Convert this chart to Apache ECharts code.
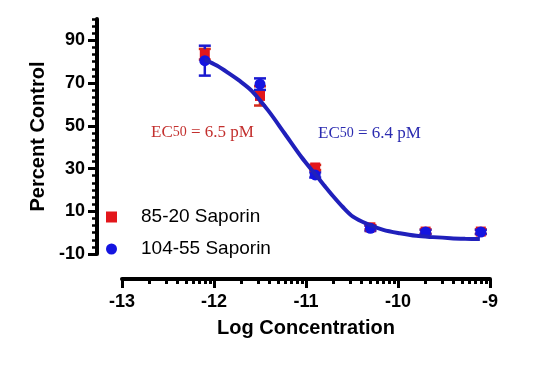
<!DOCTYPE html>
<html>
<head>
<meta charset="utf-8">
<script src="https://cdn.jsdelivr.net/npm/echarts@6/dist/echarts.min.js"></script>
<style>html,body{margin:0;padding:0;background:#fff}#c{width:537px;height:379px}</style>
</head>
<body>
<div id="c"></div>
<script>
// ---- data ----
const xLog = [-12.1, -11.5, -10.9, -10.3, -9.7, -9.1];
const sap8520 = [83.5, 64, 30.5, 2.5, 0.5, 0.5];
const sap8520Err = [2.5, 4.5, 1.2, 1, 1, 1];
const sap10455 = [80.5, 69.5, 27, 2, 0.3, 0.3];
const sap10455Err = [7, 2.7, 1.2, 1.2, 1, 1];
const fitX = [-12.1, -11.97, -11.85, -11.72, -11.59, -11.41, -11.23, -11.05, -10.92, -10.8, -10.7, -10.6, -10.49, -10.33, -10.16, -9.98, -9.8, -9.62, -9.43, -9.27, -9.11];
const fitY = [81, 78.2, 74.9, 71, 66.4, 57.1, 46.3, 35.4, 28.4, 22.0, 16.8, 12.0, 7.5, 4.0, 1.3, -0.3, -1.5, -2.1, -2.6, -2.85, -3.0];
const xTicks = [-13, -12, -11, -10, -9];
const yTicks = [-10, 10, 30, 50, 70, 90];
const seriesNames = ['85-20 Saporin', '104-55 Saporin'];
const ec50Labels = ['6.5 pM', '6.4 pM'];

// minor tick positions (log decades on x, sixths of 20 on y)
const xMinor = [];
for (let d = -13; d < -9; d++) for (let k = 2; k <= 9; k++) xMinor.push(d + Math.log10(k));
const yMinor = [];
for (let i = 0; i <= 33; i++) yMinor.push(-10 + i * 20 / 6);

const FONT = '"Liberation Sans", Arial, Helvetica, sans-serif';
const red = '#e3161b', blue = '#1414e0', curveBlue = '#2020bb';

function errData(xs, ys, es) { return xs.map((x, i) => [x, ys[i] - es[i], ys[i] + es[i]]); }
function errSeries(name, xs, ys, es, color) {
  return {
    type: 'custom', name: name + ' err', silent: true,
    data: errData(xs, ys, es),
    renderItem: function (params, api) {
      const lo = api.coord([api.value(0), api.value(1)]);
      const hi = api.coord([api.value(0), api.value(2)]);
      const w = 6;
      const st = { stroke: color, lineWidth: 2.5 };
      return { type: 'group', children: [
        { type: 'line', shape: { x1: lo[0], y1: lo[1], x2: hi[0], y2: hi[1] }, style: st },
        { type: 'line', shape: { x1: lo[0] - w, y1: lo[1], x2: lo[0] + w, y2: lo[1] }, style: st },
        { type: 'line', shape: { x1: hi[0] - w, y1: hi[1], x2: hi[0] + w, y2: hi[1] }, style: st }
      ]};
    },
    z: 2
  };
}

const chart = echarts.init(document.getElementById('c'), null, { renderer: 'canvas' });
const axisLabelStyle = { color: '#000', fontFamily: FONT, fontWeight: 'bold', fontSize: 18 };
const gridBox = { left: 122, right: 47, top: 19, bottom: 125, containLabel: false };
chart.setOption({
  animation: false,
  backgroundColor: '#fff',
  grid: [Object.assign({}, gridBox), Object.assign({}, gridBox)],
  xAxis: [{
    gridIndex: 0, type: 'value', min: -13, max: -9, interval: 1, offset: 25, position: 'bottom',
    name: 'Log Concentration', nameLocation: 'middle', nameGap: 39,
    nameTextStyle: { color: '#000', fontFamily: FONT, fontWeight: 'bold', fontSize: 20 },
    axisLine: { show: true, onZero: false, lineStyle: { color: '#000', width: 4 } },
    axisTick: { show: true, length: 9, lineStyle: { color: '#000', width: 3 }, customValues: xTicks },
    axisLabel: Object.assign({ margin: 14, customValues: xTicks, formatter: v => String(v) }, axisLabelStyle),
    splitLine: { show: false }
  }, {
    gridIndex: 1, type: 'value', min: -13, max: -9, offset: 25, position: 'bottom',
    axisLine: { show: false, onZero: false },
    axisTick: { show: true, length: 5, lineStyle: { color: '#000', width: 3 }, customValues: xMinor },
    axisLabel: { show: false },
    splitLine: { show: false }
  }],
  yAxis: [{
    gridIndex: 0, type: 'value', min: -10, max: 100, interval: 20, offset: 25, position: 'left',
    name: 'Percent Control', nameLocation: 'middle', nameGap: 49,
    nameTextStyle: { color: '#000', fontFamily: FONT, fontWeight: 'bold', fontSize: 20 },
    axisLine: { show: true, onZero: false, lineStyle: { color: '#000', width: 4 } },
    axisTick: { show: true, length: 9, lineStyle: { color: '#000', width: 3 }, customValues: yTicks },
    axisLabel: Object.assign({ margin: 12, customValues: yTicks }, axisLabelStyle),
    splitLine: { show: false }
  }, {
    gridIndex: 1, type: 'value', min: -10, max: 100, offset: 25, position: 'left',
    axisLine: { show: false, onZero: false },
    axisTick: { show: true, length: 5, lineStyle: { color: '#000', width: 2.5 }, customValues: yMinor },
    axisLabel: { show: false },
    splitLine: { show: false }
  }],
  legend: {
    orient: 'vertical', left: 101, top: 201, itemGap: 10,
    itemWidth: 11, itemHeight: 11,
    data: seriesNames,
    textStyle: { color: '#000', fontFamily: FONT, fontSize: 19, lineHeight: 22, padding: [0, 0, 0, 19] }
  },
  series: [
    errSeries(seriesNames[0], xLog, sap8520, sap8520Err, '#d42a1a'),
    {
      type: 'scatter', name: seriesNames[0], symbol: 'rect', symbolSize: 10,
      itemStyle: { color: red, opacity: 1 },
      data: xLog.map((x, i) => [x, sap8520[i]]), z: 3
    },
    errSeries(seriesNames[1], xLog, sap10455, sap10455Err, '#1a1ad0'),
    {
      type: 'scatter', name: seriesNames[1], symbol: 'circle', symbolSize: 11,
      itemStyle: { color: blue, opacity: 1 },
      data: xLog.map((x, i) => [x, sap10455[i]]), z: 4
    },
    {
      type: 'line', name: 'fit', smooth: 0.3, showSymbol: false, silent: true,
      lineStyle: { color: curveBlue, width: 4 },
      data: fitX.map((x, i) => [x, fitY[i]]), z: 5
    }
  ],
  graphic: [
    {
      type: 'text', left: 151, top: 124,
      style: {
        text: '{a|EC}{b|50}{a| = ' + ec50Labels[0] + '}',
        rich: {
          a: { fontFamily: '"Liberation Serif", "Times New Roman", serif', fontSize: 17, fill: '#c3302e' },
          b: { fontFamily: '"Liberation Serif", "Times New Roman", serif', fontSize: 14, fill: '#c3302e' }
        }
      }
    },
    {
      type: 'text', left: 318, top: 125,
      style: {
        text: '{a|EC}{b|50}{a| = ' + ec50Labels[1] + '}',
        rich: {
          a: { fontFamily: '"Liberation Serif", "Times New Roman", serif', fontSize: 17, fill: '#2b2bb0' },
          b: { fontFamily: '"Liberation Serif", "Times New Roman", serif', fontSize: 14, fill: '#2b2bb0' }
        }
      }
    }
  ]
});
</script>
</body>
</html>
